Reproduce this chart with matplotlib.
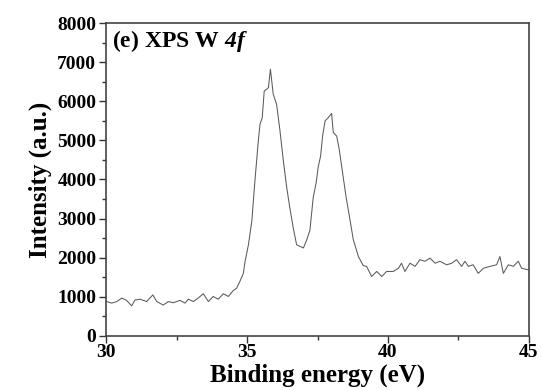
import matplotlib
matplotlib.use("Agg")
from matplotlib import pyplot as plt
from matplotlib.ticker import MultipleLocator

# binding energy (eV) and intensity (a.u.)
energy = [30.02, 30.2, 30.38, 30.56, 30.73, 30.91, 31.03, 31.21, 31.44, 31.66,
          31.8, 32.03, 32.21, 32.39, 32.62, 32.8, 32.92, 33.1, 33.27, 33.45,
          33.63, 33.8, 33.98, 34.16, 34.34, 34.51, 34.63, 34.75, 34.87, 34.93,
          35.05, 35.17, 35.28, 35.4, 35.46, 35.54, 35.61, 35.7, 35.76, 35.83,
          35.93, 36.05, 36.17, 36.29, 36.41, 36.52, 36.64, 36.76, 36.88, 37.0,
          37.12, 37.23, 37.35, 37.45, 37.53, 37.61, 37.68, 37.77, 37.88, 38.0,
          38.06, 38.18, 38.27, 38.39, 38.51, 38.63, 38.77, 38.95, 39.12, 39.24,
          39.42, 39.6, 39.78, 39.95, 40.19, 40.37, 40.48, 40.6, 40.78, 40.96,
          41.13, 41.31, 41.49, 41.67, 41.84, 42.08, 42.26, 42.43, 42.61, 42.73,
          42.85, 43.02, 43.2, 43.38, 43.62, 43.85, 43.97, 44.09, 44.27, 44.44,
          44.62, 44.74, 44.98]
intensity = [880, 840, 880, 970, 910, 770, 920, 940, 880, 1050,
             880, 790, 880, 850, 910, 840, 940, 880, 970, 1080,
             880, 1010, 940, 1080, 1010, 1160, 1220, 1400, 1600, 1900,
             2330, 2930, 3960, 4980, 5410, 5580, 6260, 6310, 6350, 6820,
             6180, 5920, 5240, 4470, 3790, 3270, 2760, 2330, 2290, 2250,
             2460, 2700, 3550, 3910, 4340, 4600, 5110, 5500, 5580, 5690,
             5200, 5110, 4770, 4170, 3570, 3060, 2460, 2030, 1800, 1780,
             1520, 1650, 1520, 1650, 1650, 1730, 1860, 1650, 1860, 1780,
             1950, 1910, 1990, 1860, 1910, 1820, 1860, 1950, 1780, 1910,
             1780, 1820, 1600, 1730, 1780, 1820, 2030, 1600, 1820, 1780,
             1910, 1730, 1690]

plt.rcParams['font.family'] = 'Liberation Serif'
plt.rcParams['font.weight'] = 'bold'
plt.rcParams['mathtext.fontset'] = 'custom'
plt.rcParams['mathtext.bf'] = 'Liberation Serif:italic:bold'

fig = plt.figure(figsize=(5.42, 3.9), dpi=100)
ax = fig.add_axes([0.1956, 0.1385, 0.7804, 0.8025])
ax.plot(energy, intensity, color='#5a5a5a', lw=0.75)

ax.set_xlim(30, 45)
ax.set_ylim(0, 8000)
ax.xaxis.set_major_locator(MultipleLocator(5))
ax.xaxis.set_minor_locator(MultipleLocator(2.5))
ax.yaxis.set_major_locator(MultipleLocator(1000))
ax.yaxis.set_minor_locator(MultipleLocator(500))
ax.tick_params(which='both', direction='out', colors='#333333', labelcolor='black', width=1.0)
ax.tick_params(which='major', length=5, labelsize=14)
ax.tick_params(which='minor', length=3)
ax.tick_params(axis='x', pad=1)
ax.tick_params(axis='y', pad=2)
for s in ax.spines.values():
    s.set_linewidth(1.2)
    s.set_color('#444444')

ax.set_xlabel('Binding energy (eV)', fontsize=18, fontweight='bold', labelpad=1.5)
ax.set_ylabel('Intensity (a.u.)', fontsize=18, fontweight='bold', labelpad=4)
ax.text(0.015, 0.985, r'(e) XPS W $\mathbf{4f}$', transform=ax.transAxes,
        fontsize=17, fontweight='bold', va='top', ha='left')

fig.savefig('out.png', dpi=100)
